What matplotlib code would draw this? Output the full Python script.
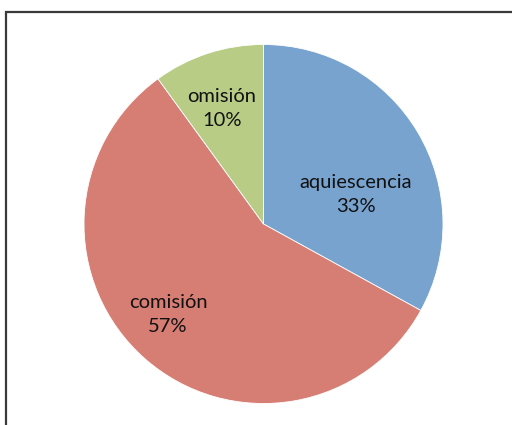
import matplotlib
matplotlib.use("Agg")
import matplotlib.pyplot as plt
from matplotlib.patches import Rectangle

categorias = ["aquiescencia", "comisión", "omisión"]
porcentajes = [33, 57, 10]
colores = ["#79A3CF", "#D67E74", "#B8CC86"]

# posiciones de las etiquetas (en pixeles de la figura, y hacia arriba)
pos_etiquetas = [(356, 231), (168, 111), (222, 317)]

plt.rcParams['font.family'] = ['Lato', 'DejaVu Sans']

fig = plt.figure(figsize=(5.12, 4.25), dpi=100)
ax = fig.add_axes([0, 0, 1, 1])

ax.pie(porcentajes, colors=colores, startangle=90, counterclock=False,
       center=(263.5, 201), radius=179.5, frame=True,
       wedgeprops=dict(edgecolor="white", linewidth=0.6))

for nombre, p, (x, y) in zip(categorias, porcentajes, pos_etiquetas):
    ax.text(x, y, f"{nombre}\n{p}%", ha="center", va="center",
            fontsize=14.5, color="#111111", linespacing=1.5)

# marco del grafico
ax.add_patch(Rectangle((5.5, -20), 560, 433.5, fill=False,
                       edgecolor="#3a3a3a", linewidth=1.6))

ax.set_xlim(0, 512)
ax.set_ylim(0, 425)
ax.set_aspect("equal")
ax.axis("off")

fig.savefig("out.png", dpi=100)
